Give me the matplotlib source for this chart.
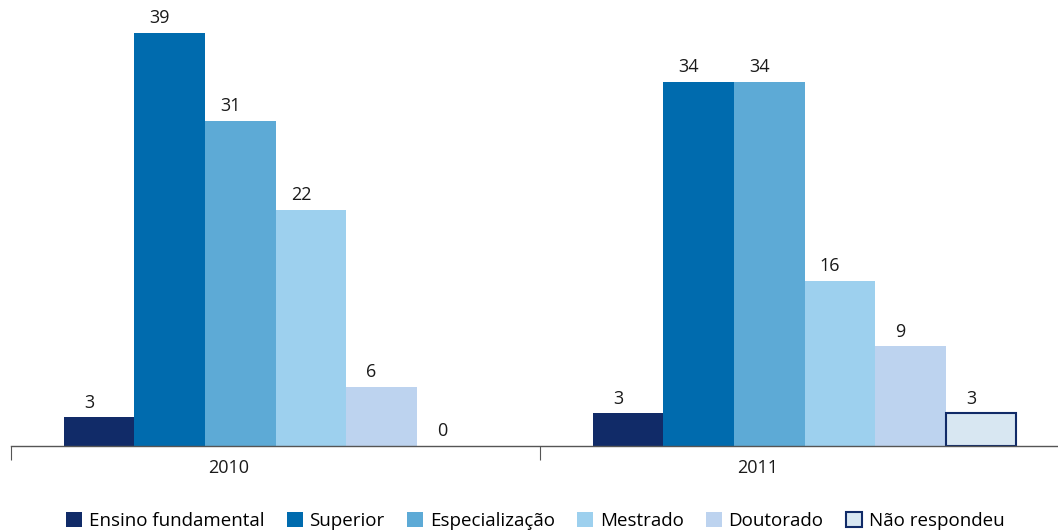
import numpy as np
import matplotlib.pyplot as plt
from matplotlib.patches import Patch

plt.rcParams['font.family'] = ['Open Sans', 'DejaVu Sans']

years = ['2010', '2011']
categories = ['Ensino fundamental', 'Superior', 'Especialização',
              'Mestrado', 'Doutorado', 'Não respondeu']
values_2010 = [2.7, 39.0, 30.7, 22.3, 5.6, 0.0]
values_2011 = [3.1, 34.4, 34.4, 15.6, 9.4, 3.1]

colors = ['#112b68', '#006bae', '#5daad6', '#9dd0ee', '#bdd3ef', '#d8e7f2']
edges = [None, None, None, None, None, '#112b68']

fig = plt.figure(figsize=(10.58, 5.31), dpi=100)
# axis runs a little past the right edge of the picture
ax = fig.add_axes([0.0104, 0.16, 1.0, 0.838])

width = 0.8 / len(categories)
centers = np.array([0.5, 1.5])
data = np.array([values_2010, values_2011])

for i, cat in enumerate(categories):
    xs = centers - 0.4 + width * (i + 0.5)
    vals = data[:, i]
    if edges[i]:
        bars = ax.bar(xs, vals, width=width, color=colors[i], edgecolor=edges[i], linewidth=1.5)
        for b, v in zip(bars, vals):
            if v == 0:
                b.set_linewidth(0)
    else:
        bars = ax.bar(xs, vals, width=width, color=colors[i], linewidth=0)
    for x, v in zip(xs, vals):
        ax.annotate(f"{v:.0f}", (x, v), xytext=(-7, 4), textcoords='offset points',
                    ha='center', va='bottom', fontsize=13, color='#1a1a1a')

ax.set_xlim(0, 2)
ax.set_ylim(0, 42)
for s in ['top', 'right', 'left']:
    ax.spines[s].set_visible(False)
ax.spines['bottom'].set_color('#555555')
ax.spines['bottom'].set_linewidth(1)
ax.set_yticks([])
ax.set_xticks([0, 1, 2])
ax.set_xticklabels([])
ax.tick_params(axis='x', which='major', length=10, color='#555555', direction='out')
ax.set_xticks(centers - 0.088, minor=True)
ax.set_xticklabels(years, minor=True, fontsize=13, color='#1a1a1a')
ax.tick_params(axis='x', which='minor', length=0, pad=9)

handles = [Patch(facecolor=c, edgecolor=(e if e else c), linewidth=(1.5 if e else 0))
           for c, e in zip(colors, edges)]
fig.legend(handles, categories, loc='lower center', bbox_to_anchor=(0.506, -0.03),
           ncol=6, frameon=False, fontsize=13.5, handlelength=0.85, handleheight=0.9,
           handletextpad=0.35, columnspacing=1.2)

fig.savefig('out.png', dpi=100)
